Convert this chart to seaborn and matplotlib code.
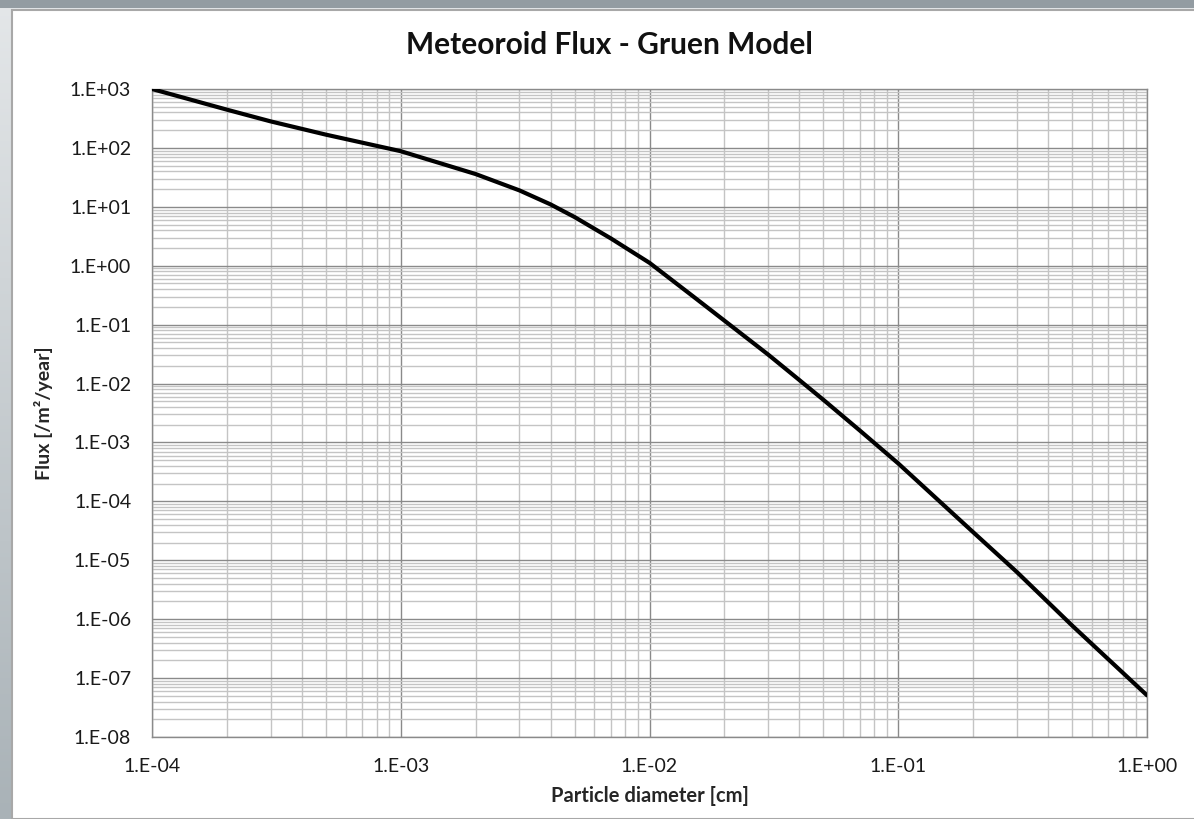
import numpy as np
import pandas as pd
import matplotlib
matplotlib.use("Agg")
import matplotlib.pyplot as plt
import matplotlib.ticker as mticker
from matplotlib.patches import Rectangle
import seaborn as sns

# ---- data ----
diameter_cm = [1e-4, 2e-4, 3e-4, 5e-4, 1e-3, 2e-3, 3e-3, 4e-3, 5e-3, 7e-3,
               1e-2, 1.5e-2, 2e-2, 3e-2, 4e-2, 5e-2, 7e-2, 1e-1, 2e-1, 3e-1, 5e-1, 1.0]
flux = [1000, 446, 282, 168, 88, 36, 19, 11, 6.7, 2.9,
        1.12, 0.30, 0.117, 0.031, 0.0115, 5.3e-3, 1.6e-3, 4.4e-4, 3.0e-5, 6.3e-6, 7.8e-7, 5.1e-8]

x_ticks = [1e-4, 1e-3, 1e-2, 1e-1, 1e0]
x_tick_labels = ["1.E-04", "1.E-03", "1.E-02", "1.E-01", "1.E+00"]
y_ticks = [1e3, 1e2, 1e1, 1e0, 1e-1, 1e-2, 1e-3, 1e-4, 1e-5, 1e-6, 1e-7, 1e-8]
y_tick_labels = ["1.E+03", "1.E+02", "1.E+01", "1.E+00", "1.E-01", "1.E-02",
                 "1.E-03", "1.E-04", "1.E-05", "1.E-06", "1.E-07", "1.E-08"]

title = "Meteoroid Flux - Gruen Model"
x_label = "Particle diameter [cm]"
y_label = "Flux [/m\u00b2/year]"

df = pd.DataFrame({"diameter": diameter_cm, "flux": flux})

sns.set_style("white")
plt.rcParams["font.family"] = ["Lato", "DejaVu Sans"]

W, H = 1194, 819
fig = plt.figure(figsize=(W / 100, H / 100), dpi=100)

# background frame (gray gradient border + white panel)
bg = fig.add_axes([0, 0, 1, 1])
grad = np.linspace(0, 1, 256)[:, None] * np.ones((1, 256))
bg.imshow(grad, extent=[0, W, 0, H], origin="upper", aspect="auto",
          cmap=matplotlib.colors.LinearSegmentedColormap.from_list(
              "g", ["#e4e7e9", "#a9b2b7"]), zorder=0)
bg.add_patch(Rectangle((0, H - 8), W, 8, facecolor="#939ca2", edgecolor="none", zorder=1))
bg.add_patch(Rectangle((11.5, 0), W, H - 9.5, facecolor="white",
                       edgecolor="#a8a8a8", linewidth=1.5, zorder=2))
bg.set_xlim(0, W)
bg.set_ylim(0, H)
bg.axis("off")

ax = fig.add_axes([152 / W, 1 - 737 / H, (1147 - 152) / W, (737 - 89) / H])
ax.set_facecolor("white")

sns.lineplot(data=df, x="diameter", y="flux", ax=ax, color="black",
             linewidth=3.0, zorder=5)

ax.set_xscale("log")
ax.set_yscale("log")
ax.set_xlim(1e-4, 1e0)
ax.set_ylim(1e-8, 1e3)

ax.xaxis.set_minor_locator(mticker.LogLocator(base=10, subs=np.arange(2, 10), numticks=50))
ax.yaxis.set_minor_locator(mticker.LogLocator(base=10, subs=np.arange(2, 10), numticks=50))
ax.xaxis.set_minor_formatter(mticker.NullFormatter())
ax.yaxis.set_minor_formatter(mticker.NullFormatter())

ax.set_xticks(x_ticks)
ax.set_xticklabels(x_tick_labels)
ax.set_yticks(y_ticks)
ax.set_yticklabels(y_tick_labels)

ax.grid(True, which="major", color="#8a8a8a", linewidth=1.0)
ax.grid(True, which="minor", color="#c4c4c4", linewidth=1.0)
ax.set_axisbelow(True)

ax.tick_params(axis="both", which="both", length=0, labelsize=14, colors="#1a1a1a")
ax.tick_params(axis="x", pad=15)
ax.tick_params(axis="y", pad=15)

for s in ax.spines.values():
    s.set_color("#8a8a8a")
    s.set_linewidth(1.0)

ax.set_xlabel(x_label, fontsize=14.5, fontweight="bold", labelpad=8)
ax.set_ylabel(y_label, fontsize=14, fontweight="bold", labelpad=12)

fig.text((406 + 813) / 2 / W, 1 - 45 / H, title, ha="center", va="center",
         fontsize=21.5, fontweight="bold", color="#111111")

fig.savefig("out.png", dpi=100)
